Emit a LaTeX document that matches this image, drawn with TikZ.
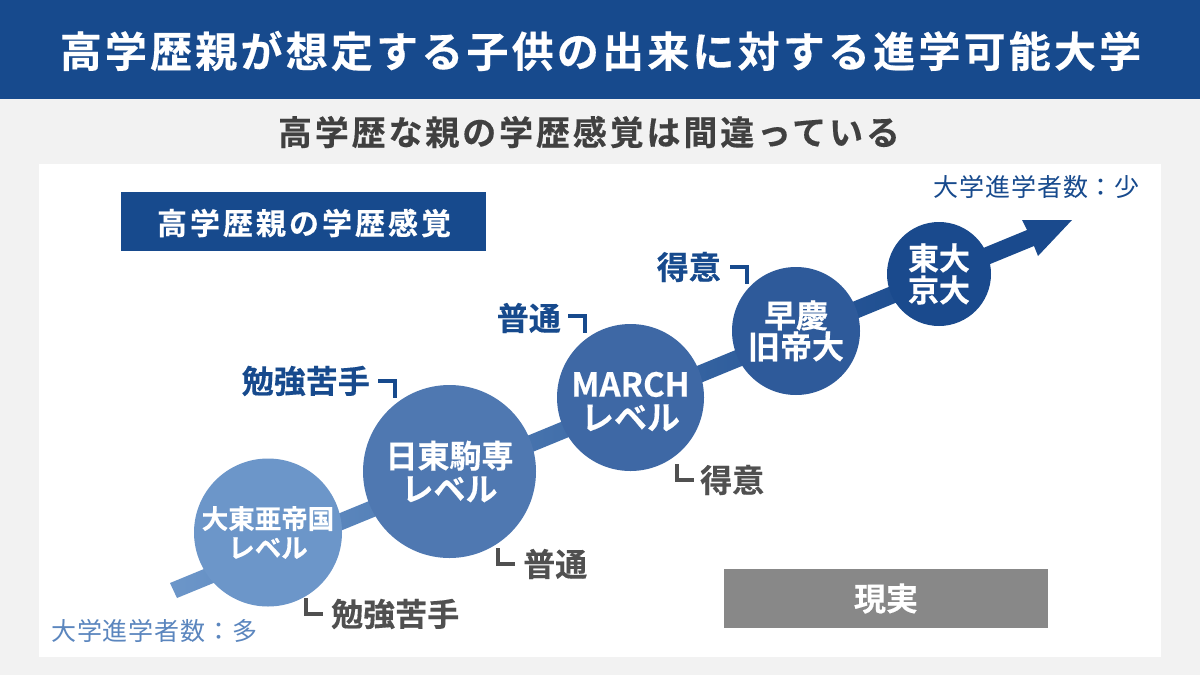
\documentclass[tikz,border=0pt]{standalone}
\usepackage{fontspec}
\setmainfont{Noto Sans CJK JP}[BoldFont={Noto Sans CJK JP Bold},BoldFeatures={FakeBold=0.35}]
\usetikzlibrary{calc}
\definecolor{navy}{HTML}{174A8D}
\definecolor{pagebg}{HTML}{F2F2F2}
\definecolor{darktxt}{HTML}{404040}
\definecolor{graytxt}{HTML}{505050}
\definecolor{graybox}{HTML}{888888}
\definecolor{lighttxt}{HTML}{5B86BE}
\definecolor{cA}{HTML}{6C96C9}
\definecolor{cB}{HTML}{4F78B1}
\definecolor{cC}{HTML}{3E68A5}
\definecolor{cD}{HTML}{2E5A9A}
\definecolor{cE}{HTML}{1A4A8D}
\pgfdeclarehorizontalshading{arrowshade}{100bp}{color(0bp)=(cA);color(25bp)=(cA);color(68bp)=(cE);color(100bp)=(cE)}
\newcommand{\fsz}[2]{\fontsize{#1}{#2}\selectfont}
\newcommand{\spaced}[1]{\addfontfeature{LetterSpace=#1}}
\tikzset{
  lvl/.style={circle,inner sep=0pt,align=center,text=white,font=\bfseries},
  navylab/.style={text=navy,font=\bfseries\fsz{32}{36},inner sep=0pt},
  graylab/.style={text=graytxt,font=\bfseries\fsz{32}{36},inner sep=0pt},
  navymark/.style={draw=navy,line width=3.5pt,miter limit=10},
  graymark/.style={draw=graytxt,line width=3.5pt,miter limit=10},
  count/.style={font=\fsz{25}{28},inner sep=0pt}
}
\begin{document}
\begin{tikzpicture}[x=1pt,y=-1pt]
\useasboundingbox (0,0) rectangle (1200,675);
\fill[pagebg] (0,0) rectangle (1200,675);
\fill[navy] (0,0) rectangle (1200,99);
\fill[white] (39,164) rectangle (1161,657);
\node[text=white,font=\bfseries\fsz{42}{46}\spaced{7.6},inner sep=0pt] (title) at (600.5,51) {高学歴親が想定する子供の出来に対する進学可能大学};
\node[text=darktxt,font=\bfseries\fsz{34}{38}\spaced{8.4},inner sep=0pt] (sub) at (589,132) {高学歴な親の学歴感覚は間違っている};
\node[fill=navy,minimum width=365pt,minimum height=59pt,inner sep=0pt] (box1) at (303.5,221.5) {};
\node[text=white,font=\bfseries\fsz{30}{33}\spaced{10},inner sep=0pt] (box1t) at (304,223) {高学歴親の学歴感覚};
\node[fill=graybox,minimum width=324pt,minimum height=59pt,inner sep=0pt,text=white,font=\bfseries\fsz{32}{36}] (box2) at (886,598.5) {現実};
% gradient arrow
\coordinate (a1) at (170,583);
\coordinate (a2) at (177,598);
\coordinate (a3) at (1034,246);
\coordinate (a4) at (1038,256);
\coordinate (a5) at (1072,220);
\coordinate (a6) at (1022,220);
\coordinate (a7) at (1027,230);
\shade[shading=arrowshade] (a1) -- (a7) -- (a6) -- (a5) -- (a4) -- (a3) -- (a2) -- cycle;
% levels
\node[lvl,fill=cA,minimum size=148pt,font=\bfseries\fsz{26.5}{29}] (n1) at (268,532.5) {大東亜帝国\\レベル};
\node[lvl,fill=cB,minimum size=173pt,font=\bfseries\fsz{32}{33}] (n2) at (449.5,471.5) {日東駒専\\レベル};
\node[lvl,fill=cC,minimum size=147pt] (n3) at (630.5,397.5) {};
\node[align=center,text=white,inner sep=0pt,font=\bfseries\fsz{33}{33}] (n3t) at (630.5,401.5) {MARCH\\レベル};
\node[lvl,fill=cD,minimum size=128pt,font=\bfseries\fsz{32}{31}] (n4) at (796,331) {早慶\\旧帝大};
\node[lvl,fill=cE,minimum size=104pt,font=\bfseries\fsz{31}{32}] (n5) at (939,274) {東大\\京大};
% labels
\node[navylab,anchor=east] (l1) at (370,381) {勉強苦手};
\node[navylab,anchor=east] (l2) at (561,318) {普通};
\node[navylab,anchor=east] (l3) at (721,267) {得意};
\node[graylab,anchor=west] (g1) at (331,614) {勉強苦手};
\node[graylab,anchor=west] (g2) at (523,564) {普通};
\node[graylab,anchor=west] (g3) at (700,480) {得意};
% marks
\draw[navymark] (378,381) -- ++(17,0) -- ++(0,17);
\draw[navymark] (568,316) -- ++(17,0) -- ++(0,17);
\draw[navymark] (730,267) -- ++(17,0) -- ++(0,17);
\draw[graymark] (306,598) -- ++(0,16) -- ++(17,0);
\draw[graymark] (498,548) -- ++(0,16) -- ++(17,0);
\draw[graymark] (677,464) -- ++(0,16) -- ++(17,0);
% counts
\node[count,text=navy,anchor=east] (c1) at (1140,187) {\spaced{3.5}大学進学者数：少};
\node[count,text=lighttxt,anchor=west] (c2) at (51,631) {\spaced{3.5}大学進学者数：多};
\end{tikzpicture}
\end{document}
